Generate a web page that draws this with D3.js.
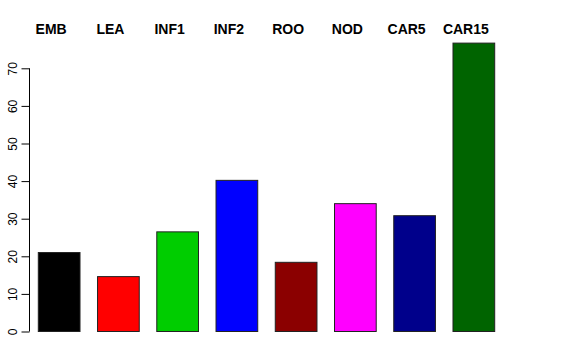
<!DOCTYPE html>
<html>
<head>
<title>Bar chart</title>
<script src="https://d3js.org/d3.v7.min.js" charset="utf-8"></script>
<style>
body { margin: 0; background: white; }
svg { display: block; font-family: "Liberation Sans", Arial, sans-serif; }
</style>
</head>
<body>
<script>
// chart data
var groups = ["EMB", "LEA", "INF1", "INF2", "ROO", "NOD", "CAR5", "CAR15"];
var values = [21.0, 14.6, 26.5, 40.2, 18.4, 34.0, 30.8, 76.7];
var barColors = ["#000000", "#ff0000", "#00cd00", "#0000ff", "#8b0000", "#ff00ff", "#00008b", "#006400"];
var yTicks = [0, 10, 20, 30, 40, 50, 60, 70];

var width = 576;
var height = 360;

var svg = d3.select("body")
  .append("svg")
  .attr("width", width)
  .attr("height", height);

var x = d3.scaleBand()
  .domain(groups)
  .range([38.3, 494.7])
  .paddingInner(0.296)
  .paddingOuter(0);

var y = d3.scaleLinear()
  .domain([0, 70])
  .range([331.5, 68.3]);

// bars
svg.append("g")
  .selectAll("rect")
  .data(groups)
  .enter()
  .append("rect")
  .attr("x", function(d) { return x(d); })
  .attr("y", function(d, i) { return y(values[i]); })
  .attr("width", x.bandwidth())
  .attr("height", function(d, i) { return y(0) - y(values[i]); })
  .attr("fill", function(d, i) { return barColors[i]; })
  .attr("stroke", "#222")
  .attr("stroke-width", 1);

// group names along the top
svg.append("g")
  .selectAll("text")
  .data(groups)
  .enter()
  .append("text")
  .attr("x", function(d) { return x(d) + x.bandwidth() / 2 - 8; })
  .attr("y", 34)
  .attr("text-anchor", "middle")
  .attr("font-size", "14px")
  .attr("font-weight", "bold")
  .text(function(d) { return d; });

// y axis, R style
var yAxis = d3.axisLeft(y)
  .tickValues(yTicks)
  .tickSize(8)
  .tickPadding(5);

var ax = svg.append("g")
  .attr("transform", "translate(29.5,0)")
  .call(yAxis);

ax.select(".domain")
  .attr("d", "M0," + y(0) + "V" + y(70))
  .attr("stroke", "#000");

ax.selectAll(".tick text")
  .attr("font-size", "12px")
  .attr("font-family", "Liberation Sans, Arial, sans-serif")
  .attr("fill", "#000")
  .attr("text-anchor", "middle")
  .attr("dy", 0)
  .attr("x", 0)
  .attr("transform", "translate(-13,0) rotate(-90)");
</script>
</body>
</html>
